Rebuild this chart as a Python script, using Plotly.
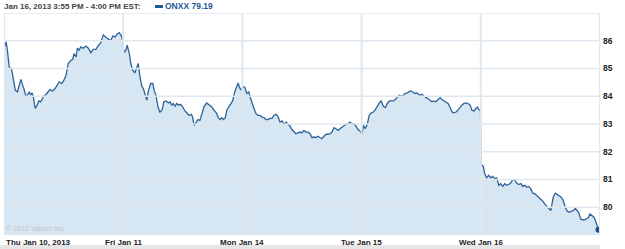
import plotly.graph_objects as go

# Trading minutes since Thu Jan 10 09:30 (390 trading minutes per day)
minutes = [
    0, 7, 11, 17, 25, 30, 37, 44, 50, 55, 61, 65, 72, 79, 83, 87, 92, 96, 102, 107,
    114, 120, 129, 140, 150, 159, 167, 174, 181, 189, 196, 203, 210, 218, 225, 229, 236, 240, 246, 251,
    259, 268, 276, 284, 292, 301, 309, 316, 325, 334, 341, 349, 356, 363, 371, 377, 382, 386,
    393, 399, 403, 410, 415, 421, 428, 434, 439, 445, 451, 456, 462, 467, 473, 480, 487, 491, 497, 504,
    510, 517, 523, 530, 538, 543, 549, 554, 560, 565, 572, 578, 585, 592, 600, 606, 613, 617, 622, 628,
    635, 641, 648, 654, 663, 672, 680, 687, 696, 701, 707, 713, 718, 724, 729, 735, 742, 748, 755, 761,
    766, 770, 774,
    781, 788, 794, 801, 805, 811, 818, 824, 831, 838, 844, 851, 857, 864, 870, 877, 883, 890, 896, 903,
    910, 916, 923, 929, 936, 942, 949, 955, 962, 968, 975, 981, 988, 995, 1001, 1008, 1014, 1021, 1027, 1034,
    1040, 1047, 1054, 1060, 1067, 1073, 1080, 1086, 1093, 1099, 1106, 1113, 1119, 1126, 1132, 1139, 1145, 1152, 1158, 1165,
    1171, 1176, 1182, 1189, 1195, 1202, 1208, 1215, 1221, 1228, 1234, 1241, 1248, 1254, 1261, 1267, 1274, 1280, 1287, 1293,
    1304, 1312, 1320, 1328, 1337, 1345, 1352, 1359, 1367, 1374, 1381, 1387, 1394, 1400, 1407, 1413, 1420, 1427, 1433, 1440,
    1446, 1453, 1459, 1466, 1472, 1479, 1485, 1492, 1498, 1505, 1512, 1518, 1525, 1531, 1538, 1544, 1549, 1553, 1559,
    1561, 1568, 1573, 1579, 1586, 1592, 1599, 1605, 1612, 1619, 1625, 1632, 1638, 1645, 1651, 1658, 1664, 1671, 1677, 1684,
    1691, 1697, 1704, 1710, 1717, 1723, 1730, 1736, 1743, 1749, 1756, 1763, 1769, 1776, 1782, 1789, 1793, 1797, 1804, 1810,
    1817, 1823, 1830, 1836, 1843, 1850, 1856, 1863, 1869, 1874, 1880, 1887, 1893, 1900, 1906, 1913, 1917, 1924, 1930, 1937,
    1945,
]

prices = [
    85.73, 85.96, 85.66, 85.06, 84.97, 84.70, 84.22, 84.16, 84.46, 84.61, 84.40, 84.28, 83.98, 84.10, 84.16, 84.04, 84.12, 83.98, 83.56, 83.64,
    83.83, 83.80, 83.98, 84.10, 84.24, 84.19, 84.28, 84.40, 84.52, 84.46, 84.58, 84.76, 85.18, 85.28, 85.33, 85.54, 85.42, 85.73, 85.66, 85.78,
    85.73, 85.81, 85.73, 85.57, 85.69, 85.69, 85.84, 85.91, 86.21, 86.12, 86.05, 86.00, 86.17, 86.14, 86.24, 86.29, 86.21, 86.12,
    85.57, 85.66, 85.84, 85.54, 85.18, 84.94, 84.84, 85.06, 85.18, 84.70, 84.36, 84.28, 84.00, 83.86, 84.22, 84.46, 84.46, 84.22, 84.04, 83.61,
    83.43, 83.50, 83.80, 83.83, 83.76, 83.80, 83.68, 83.74, 83.64, 83.74, 83.68, 83.71, 83.61, 83.47, 83.38, 83.31, 83.35, 83.25, 82.95, 83.07,
    83.16, 83.13, 83.38, 83.61, 83.76, 83.68, 83.61, 83.50, 83.38, 83.23, 83.16, 83.23, 83.16, 83.23, 83.50, 83.61, 83.76, 83.83, 84.16, 84.36,
    84.48, 84.34, 84.22,
    84.34, 84.32, 84.10, 84.16, 83.98, 83.74, 83.56, 83.38, 83.31, 83.31, 83.25, 83.23, 83.16, 83.16, 83.20, 83.20, 83.31, 83.35, 83.28, 83.07,
    83.11, 82.99, 83.07, 83.01, 82.92, 82.80, 82.71, 82.65, 82.68, 82.71, 82.68, 82.77, 82.71, 82.71, 82.65, 82.51, 82.53, 82.51, 82.56, 82.51,
    82.47, 82.56, 82.63, 82.63, 82.65, 82.71, 82.87, 82.83, 82.77, 82.83, 82.89, 82.95, 82.99, 83.01, 83.07, 83.01, 83.01, 82.92, 82.80, 82.75,
    82.63, 82.95, 82.83, 83.01, 83.31, 83.40, 83.43, 83.52, 83.64, 83.76, 83.83, 83.64, 83.59, 83.74, 83.83, 83.83, 83.83, 83.88, 83.95, 84.04,
    84.00, 84.10, 84.12, 84.19, 84.16, 84.10, 84.12, 84.04, 84.07, 84.00, 83.95, 83.92, 83.86, 83.80, 83.83, 83.80, 83.88, 83.95, 83.88, 83.83,
    83.80, 83.74, 83.61, 83.43, 83.40, 83.43, 83.50, 83.61, 83.68, 83.74, 83.76, 83.74, 83.68, 83.50, 83.47, 83.56, 83.61, 83.52, 83.50,
    81.54, 81.47, 81.21, 81.06, 81.15, 81.06, 81.11, 81.03, 81.06, 80.79, 80.85, 80.75, 80.85, 80.79, 80.82, 80.87, 80.99, 80.99, 80.87, 80.82,
    80.85, 80.75, 80.79, 80.72, 80.75, 80.67, 80.51, 80.49, 80.42, 80.36, 80.27, 80.22, 80.12, 80.03, 79.94, 79.88, 80.12, 80.36, 80.51, 80.46,
    80.42, 80.36, 80.24, 80.00, 79.86, 79.82, 79.86, 79.88, 79.96, 79.91, 79.82, 79.58, 79.55, 79.55, 79.58, 79.64, 79.76, 79.70, 79.64, 79.46,
    79.19,
]

day_ticks = [0, 390, 780, 1170, 1560]
day_labels = ["Thu Jan 10, 2013", "Fri Jan 11", "Mon Jan 14", "Tue Jan 15", "Wed Jan 16"]
x_end = 1950
y_ticks = [80, 81, 82, 83, 84, 85, 86]
y_top = 87
y_bottom = 79

header_text = "Jan 16, 2013 3:55 PM - 4:00 PM EST:"
symbol = "ONXX"
last_price = prices[-1]

LINE = "#2e6399"
FILL = "#d6e6f2"
GRID = "#dfe7ef"
FONT = "Liberation Sans"

fig = go.Figure()
fig.add_trace(go.Scatter(
    x=minutes, y=prices, mode="lines",
    line=dict(color=LINE, width=1.3),
    fill="tozeroy", fillcolor=FILL,
    hoverinfo="skip", showlegend=False,
))
fig.add_trace(go.Scatter(
    x=[minutes[-1]], y=[prices[-1]], mode="markers",
    marker=dict(color="#1f4f80", size=6),
    hoverinfo="skip", showlegend=False,
))

shapes = []
for t in day_ticks + [x_end]:
    shapes.append(dict(type="line", xref="x", yref="paper", x0=t, x1=t, y0=0, y1=1,
                       line=dict(color=GRID, width=2), layer="above"))
for v in y_ticks + [y_top]:
    shapes.append(dict(type="line", xref="paper", yref="y", x0=0, x1=1, y0=v, y1=v,
                       line=dict(color=GRID, width=1.5), layer="above"))
# bottom gray strip
shapes.append(dict(type="rect", xref="paper", yref="paper", x0=-4/596, x1=1, y0=-14/222, y1=-10/222,
                   fillcolor="#e6e6e6", line=dict(width=0), layer="above"))

annotations = []
for i, (t, lab) in enumerate(zip(day_ticks, day_labels)):
    annotations.append(dict(x=t, y=0, xref="x", yref="paper", text=lab, showarrow=False,
                            xanchor="left" if i == 0 else "center", yanchor="top", yshift=-1,
                            font=dict(family=FONT, size=8, color="#222222", weight="bold")))
annotations.append(dict(x=0, y=1, xref="paper", yref="paper", text=header_text, showarrow=False,
                        xanchor="left", yanchor="bottom", xshift=-2, yshift=0,
                        font=dict(family=FONT, size=8, color="#444444", weight="bold")))
annotations.append(dict(x=0, y=1, xref="paper", yref="paper",
                        text="<b>%s %.2f</b>" % (symbol, last_price), showarrow=False,
                        xanchor="left", yanchor="bottom", xshift=159, yshift=0,
                        font=dict(family=FONT, size=8.5, color="#1d5a97")))
annotations.append(dict(x=0, y=0, xref="paper", yref="paper", text="© 2013 Yahoo! Inc.", showarrow=False,
                        xanchor="left", yanchor="bottom", xshift=0, yshift=1,
                        font=dict(family=FONT, size=7, color="#bcc6cf")))
shapes.append(dict(type="rect", xref="paper", yref="paper", x0=151/596, x1=159/596,
                   y0=(222 + 5) / 222, y1=(222 + 8) / 222,
                   fillcolor="#1d5a97", line=dict(width=0)))

fig.update_layout(
    width=625, height=249,
    margin=dict(l=4, r=25, t=13, b=14),
    paper_bgcolor="white", plot_bgcolor="white",
    xaxis=dict(range=[0, x_end], showgrid=False, zeroline=False, showticklabels=False,
               showline=False, fixedrange=True),
    yaxis=dict(range=[y_bottom, y_top], side="right", tickvals=y_ticks,
               ticktext=[str(v) for v in y_ticks], showgrid=False, zeroline=False,
               showline=False, ticks="", ticklabelstandoff=2,
               tickfont=dict(family=FONT, size=8.5, color="#222222", weight="bold")),
    shapes=shapes,
    annotations=annotations,
    showlegend=False,
)

fig.write_html("out.html", config={"displayModeBar": False})
